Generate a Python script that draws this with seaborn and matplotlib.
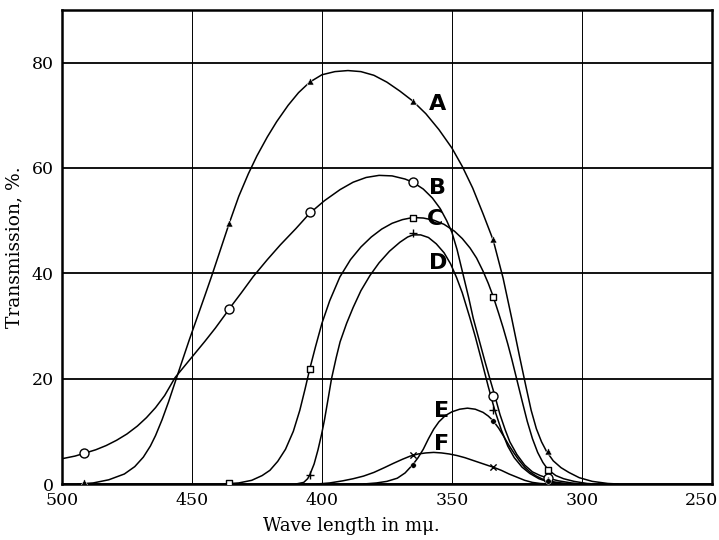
import matplotlib
matplotlib.use("Agg")
import matplotlib.pyplot as plt
import matplotlib.transforms as mtransforms
import seaborn as sns

# mercury lines used for the measurements (m mu)
a_wave = [491.6, 435.8, 404.7, 365.0, 334.1, 313.0]
a_val = [0.3, 49.6, 76.6, 72.8, 46.6, 6.2]
b_wave = [491.6, 435.8, 404.7, 365.0, 334.1, 313.0]
b_val = [5.8, 33.3, 51.7, 57.3, 16.8, 1.2]
c_wave = [435.8, 404.7, 365.0, 334.1, 313.0]
c_val = [0.1, 21.8, 50.6, 35.6, 2.6]
d_wave = [404.7, 365.0, 334.1, 313.0]
d_val = [1.7, 47.6, 14.0, 0.5]
e_wave = [365.0, 334.1, 313.0]
e_val = [3.7, 12.0, 0.6]
f_wave = [365.0, 334.1]
f_val = [5.5, 3.2]

# the drawn curves
a_cx = [494, 488, 482, 476, 472, 468.7, 466, 464, 461.5, 459, 456.5, 454, 451, 448, 445, 442.4,
        439.5, 435.8, 432, 428.3, 425, 421, 417.4, 413, 409, 404.7, 400, 395, 390, 385, 380,
        375, 370, 365, 360, 355, 350, 346, 342, 338, 334.1, 330.3, 327, 324, 321.5, 319.5,
        317.5, 315.5, 313.6, 311, 308, 305, 301, 296, 290, 286]
a_cy = [0, 0.2, 0.8, 1.9, 3.3, 5.1, 7.2, 9.2, 12.2, 15.6, 19.3, 23.0, 27.4, 31.6, 35.8, 39.5,
        43.8, 49.3, 54.6, 58.9, 62.3, 65.9, 68.8, 71.9, 74.3, 76.3, 77.7, 78.3, 78.5, 78.3, 77.6,
        76.3, 74.6, 72.7, 70.3, 67.3, 63.8, 60.3, 56.2, 51.3, 46.3, 39.1, 31.5, 24.3, 18.5, 14.0,
        10.5, 8.0, 6.2, 4.4, 3.1, 2.2, 1.2, 0.5, 0.1, 0]
b_cx = [500, 495, 491.6, 487, 483, 479, 475, 471, 467.5, 464, 460.5, 456.5, 453, 449, 445, 441,
        437, 435.6, 431, 426.4, 421, 416, 410, 404.7, 399, 393, 388, 383, 378, 373, 368, 365,
        361, 357.5, 354.5, 352, 350, 348, 345.7, 343.5, 341.8, 339.5, 337.3, 335.4, 333.5,
        331.5, 329.5, 327.7, 325, 322, 319, 316, 313, 309, 304, 300]
b_cy = [4.8, 5.3, 5.8, 6.5, 7.3, 8.3, 9.5, 11.0, 12.6, 14.5, 16.8, 20.2, 22.3, 24.7, 27.1, 29.6,
        32.3, 33.3, 36.3, 39.4, 42.6, 45.4, 48.5, 51.4, 53.8, 55.9, 57.3, 58.2, 58.6, 58.5, 57.9,
        57.3, 56.0, 54.3, 52.3, 50.0, 47.8, 44.5, 39.8, 35.3, 31.5, 27.3, 23.3, 20.0, 16.8,
        13.2, 10.3, 8.0, 5.6, 3.6, 2.3, 1.6, 1.1, 0.6, 0.2, 0]
c_cx = [438, 432, 427, 423, 420, 417, 414, 411, 408.5, 406.5, 404.7, 402.5, 400, 397, 393.1, 389,
        385, 381, 377, 373, 369, 365, 361, 357, 353, 349, 346, 343, 340.5, 338, 336, 334.1,
        332, 330.3, 328.5, 327, 325.1, 323, 321, 319, 317, 315, 313, 310, 307, 303, 298, 295]
c_cy = [0, 0.2, 0.7, 1.6, 2.6, 4.3, 6.6, 10.0, 14.0, 18.0, 21.8, 26.0, 30.5, 34.8, 39.3, 42.6,
        45.0, 46.9, 48.4, 49.5, 50.2, 50.6, 50.5, 50.1, 49.3, 48.0, 46.6, 44.8, 42.9, 40.4, 38.1,
        35.6, 32.4, 29.7, 26.6, 23.8, 20.0, 15.8, 11.9, 8.6, 6.0, 4.1, 2.7, 1.6, 1.0, 0.5, 0.1, 0]
d_cx = [410, 407, 405.5, 404.7, 403, 401.5, 400.1, 399, 397.5, 396.3, 394.5, 393, 390.5, 388,
        385, 381.5, 378, 374, 370, 367, 364.9, 362, 359, 356, 353, 350.5, 348.2, 346, 343.1,
        341, 338.6, 336, 333.5, 331, 328.5, 326, 323, 320, 316.5, 313, 308, 304]
d_cy = [0, 0.3, 1.0, 1.7, 3.8, 6.5, 9.5, 12.2, 16.5, 20.0, 24.0, 27.0, 30.5, 33.5,
        36.7, 39.6, 42.0, 44.2, 45.9, 46.9, 47.3, 47.3, 46.8, 45.6, 43.9, 41.8, 39.2, 36.3, 31.6,
        28.0, 23.5, 18.5, 14.0, 10.3, 7.2, 5.0, 3.2, 2.0, 1.0, 0.4, 0.1, 0]
e_cx = [384, 379, 375, 371, 368, 365, 363, 361, 359, 357, 355, 352.5, 350, 347, 344, 341, 338,
        336, 334.1, 332, 330, 328, 326, 324, 322, 320, 317.5, 315, 312, 308, 304]
e_cy = [0, 0.2, 0.5, 1.1, 2.1, 3.7, 5.0, 6.6, 8.6, 10.4, 11.8, 13.0, 13.7, 14.2, 14.4, 14.2, 13.6,
        12.9, 12.0, 10.6, 9.0, 7.3, 5.8, 4.4, 3.2, 2.3, 1.5, 0.9, 0.5, 0.2, 0]
f_cx = [402, 397, 392, 388, 384, 380, 376, 372.6, 369, 366, 363, 360, 357, 354, 351, 348, 345,
        342, 339, 336, 334.1, 331, 328, 325, 322, 319, 316, 313]
f_cy = [0, 0.2, 0.6, 1.0, 1.5, 2.2, 3.1, 3.9, 4.7, 5.3, 5.7, 5.9, 6.0, 5.9, 5.7, 5.4, 5.0,
        4.5, 4.0, 3.5, 3.2, 2.6, 1.9, 1.3, 0.7, 0.3, 0.1, 0]

curve_names = ["A", "B", "C", "D", "E", "F"]
label_x = [355.4, 355.4, 356.5, 355.4, 354.0, 354.0]
label_y = [72.1, 56.2, 50.3, 41.9, 13.9, 7.6]

sns.set_style("white")
plt.rcParams["font.family"] = ["DejaVu Serif"]
plt.rcParams["text.color"] = "black"
plt.rcParams["axes.labelcolor"] = "black"

fig, ax = plt.subplots(figsize=(7.19, 5.4), dpi=100)
fig.subplots_adjust(left=0.0862, right=0.990, bottom=0.1037, top=0.9815)

curves = [(a_cx, a_cy), (b_cx, b_cy), (c_cx, c_cy), (d_cx, d_cy), (e_cx, e_cy), (f_cx, f_cy)]
for cx, cy in curves:
    sns.lineplot(x=cx, y=cy, sort=False, estimator=None, color="black", lw=1.1, ax=ax)

# markers for the measured points
sns.scatterplot(x=a_wave, y=a_val, marker="^", s=26, color="black", ax=ax, zorder=5)
sns.scatterplot(x=b_wave, y=b_val, marker="o", s=42, facecolor="white", edgecolor="black",
                linewidth=1.0, ax=ax, zorder=5)
sns.scatterplot(x=c_wave, y=c_val, marker="s", s=16, facecolor="white", edgecolor="black",
                linewidth=1.0, ax=ax, zorder=5)
sns.scatterplot(x=d_wave, y=d_val, marker="+", s=40, color="black", linewidth=1.0, ax=ax, zorder=5)
sns.scatterplot(x=e_wave, y=e_val, marker="o", s=16, color="black", ax=ax, zorder=5)
sns.scatterplot(x=f_wave, y=f_val, marker="x", s=20, color="black", linewidth=1.0, ax=ax, zorder=5)

for name, lx, ly in zip(curve_names, label_x, label_y):
    ax.text(lx, ly, name, ha="center", va="center", fontsize=16, fontweight="bold",
            color="black", family=["Liberation Sans Narrow", "DejaVu Sans"])

ax.set_xlim(500, 250)
ax.set_ylim(0, 90)
ax.set_xticks([500, 450, 400, 350, 300, 250])
ax.set_yticks([0, 20, 40, 60, 80])
ax.tick_params(length=0, labelsize=12.5, pad=6, colors="black")
ax.yaxis.grid(True, color="black", lw=1.3)
ax.xaxis.grid(True, color="black", lw=0.7)
ax.set_axisbelow(True)
for sp in ax.spines.values():
    sp.set_color("black")
    sp.set_linewidth(1.8)

# the last x label sits a little inside the frame
last = ax.get_xticklabels()[-1]
last.set_transform(last.get_transform() + mtransforms.ScaledTranslation(-0.1, 0, fig.dpi_scale_trans))

ax.set_xlabel("Wave length in m\u03bc.", fontsize=13, labelpad=4)
ax.xaxis.set_label_coords(0.445, -0.07)
ax.set_ylabel("Transmission, %.", fontsize=13.5, labelpad=6)

fig.savefig("out.png", dpi=100)
